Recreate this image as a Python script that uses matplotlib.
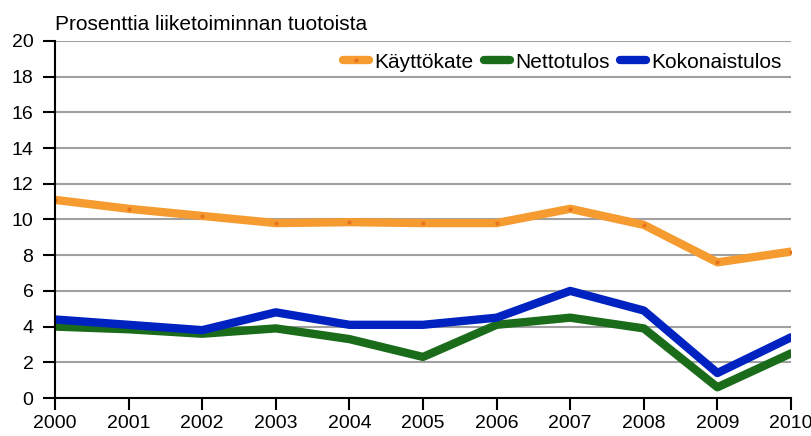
import matplotlib.pyplot as plt

years = [2000, 2001, 2002, 2003, 2004, 2005, 2006, 2007, 2008, 2009, 2010]
kayttokate = [11.1, 10.6, 10.2, 9.8, 9.85, 9.8, 9.8, 10.6, 9.7, 7.6, 8.2]
nettotulos = [4.0, 3.85, 3.6, 3.9, 3.3, 2.3, 4.1, 4.5, 3.9, 0.6, 2.5]
kokonaistulos = [4.4, 4.1, 3.8, 4.8, 4.1, 4.1, 4.5, 6.0, 4.9, 1.4, 3.4]

plt.rcParams['font.family'] = ['Liberation Sans', 'DejaVu Sans']

fig = plt.figure(figsize=(8.12, 4.36), dpi=100)
ax = fig.add_axes([55/812, 1-398/436, (791-55)/812, (398-41)/436])

ax.plot(years, kayttokate, color='#F59B30', lw=6, solid_capstyle='round',
        marker='o', ms=2, mfc='#E8731E', mec='#E8731E', label='Käyttökate')
ax.plot(years, nettotulos, color='#1A6B1A', lw=6, solid_capstyle='round', label='Nettotulos')
ax.plot(years, kokonaistulos, color='#0022C0', lw=6, solid_capstyle='round', label='Kokonaistulos')

ax.set_xlim(2000, 2010)
ax.set_ylim(0, 20)
ax.set_xticks(years)
ax.set_yticks(range(0, 21, 2))
ax.tick_params(labelsize=14, length=8.5, width=1.5, color='black')
ax.tick_params(axis='x', direction='out', pad=4)
ax.tick_params(axis='y', pad=7)
ax.yaxis.grid(True, color='#A0A0A0', lw=1.5)
ax.set_axisbelow(True)
for s in ['top', 'right']:
    ax.spines[s].set_visible(False)
ax.spines['left'].set_linewidth(1.5)
ax.spines['bottom'].set_linewidth(1.5)

ax.text(55/812, 1-25/436, 'Prosenttia liiketoiminnan tuotoista', transform=fig.transFigure,
        fontsize=15, va='center', ha='left')

leg = ax.legend(loc='center right', ncol=3, frameon=False, fontsize=15,
                handlelength=1.25, handletextpad=0.25, columnspacing=0.5,
                bbox_to_anchor=(782/812, 1-62/436), bbox_transform=fig.transFigure,
                borderaxespad=0, borderpad=0)

plt.savefig('out.png')
